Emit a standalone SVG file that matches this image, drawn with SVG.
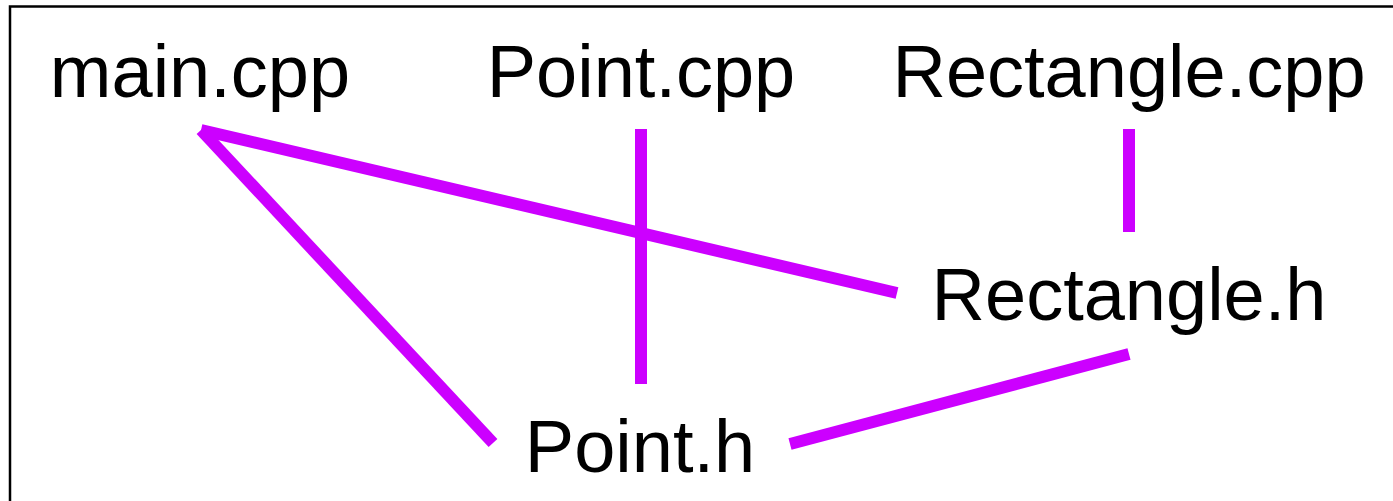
<svg xmlns="http://www.w3.org/2000/svg" width="1393" height="501" viewBox="0 0 1393 501">
<style>
.lbl{font-family:"Liberation Sans",Arial,sans-serif;font-size:74px;fill:#000;text-anchor:middle}
.edge{stroke:#CC00FF;stroke-width:12;stroke-linecap:butt;fill:none}
</style>
<rect x="0" y="0" width="1393" height="501" fill="#fff"/>
<rect x="10" y="6.5" width="1500" height="600" fill="none" stroke="#000" stroke-width="2.5"/>
<g id="connectors">
<line class="edge" x1="201" y1="130" x2="897" y2="293"/>
<line class="edge" x1="201" y1="130" x2="493" y2="443"/>
<line class="edge" x1="641" y1="129" x2="641" y2="384"/>
<line class="edge" x1="1129" y1="129" x2="1129" y2="232"/>
<line class="edge" x1="790" y1="444" x2="1129" y2="354"/>
</g>
<g id="main_cpp"><text class="lbl" x="200" y="97">main.cpp</text></g>
<g id="point_cpp"><text class="lbl" x="641" y="97">Point.cpp</text></g>
<g id="rectangle_cpp"><text class="lbl" x="1129" y="97">Rectangle.cpp</text></g>
<g id="rectangle_h"><text class="lbl" x="1129" y="320">Rectangle.h</text></g>
<g id="point_h"><text class="lbl" x="640" y="472">Point.h</text></g>
</svg>
